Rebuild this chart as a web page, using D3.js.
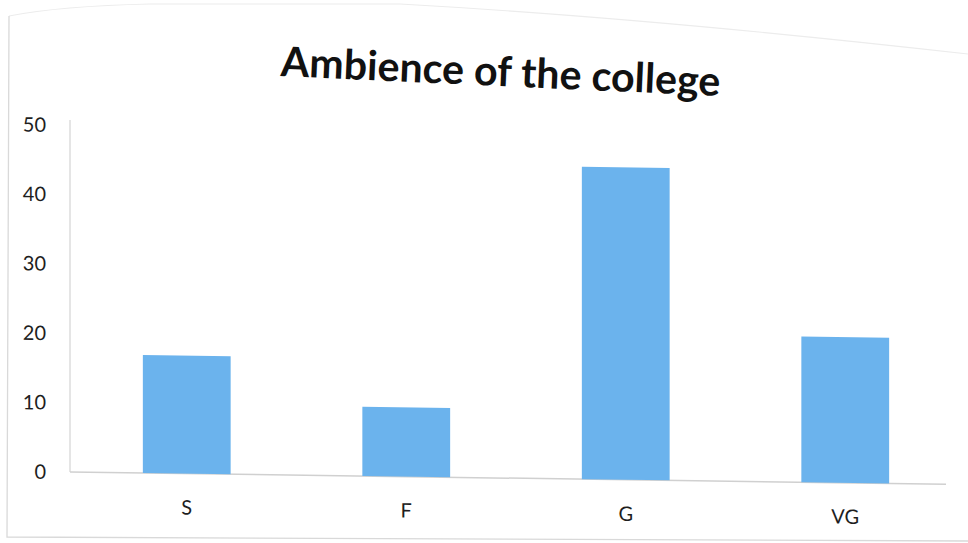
<!DOCTYPE html>
<html>
<head>
<meta charset="utf-8">
<script src="https://cdn.jsdelivr.net/npm/d3@7"></script>
<style>
  html, body { margin: 0; padding: 0; background: #fff; }
  svg { display: block; }
</style>
</head>
<body>
<svg id="chart" width="968" height="543"></svg>
<script>
const title = "Ambience of the college";
const categories = ["S", "F", "G", "VG"];
const values = [17, 10, 45, 21];
const yTicks = [0, 10, 20, 30, 40, 50];

const W = 968, H = 543;
const svg = d3.select("#chart");
svg.append("rect").attr("width", W).attr("height", H).attr("fill", "#fff");

// paper frame edges
svg.append("path")
  .attr("d", "M9,16 Q60,6 150,4 L400,4 Q650,18 968,54")
  .attr("fill", "none").attr("stroke", "#ececec").attr("stroke-width", 1.2);
svg.append("path")
  .attr("d", "M9,16 L7,537 L968,541")
  .attr("fill", "none").attr("stroke", "#d9d9d9").attr("stroke-width", 1.3);

const x0 = 70, y0 = 472;
const plot = svg.append("g")
  .attr("transform", `translate(${x0},${y0}) skewY(0.8) translate(${-x0},${-y0})`);

const x = d3.scaleBand().domain(categories).range([77, 955]).paddingInner(0.6).paddingOuter(0.3);
const y = d3.scaleLinear().domain([0, 50]).range([y0, 125]);

// y axis line
plot.append("line")
  .attr("x1", x0).attr("x2", x0).attr("y1", 120).attr("y2", y0)
  .attr("stroke", "#d4d4d4").attr("stroke-width", 1.2);

// baseline
plot.append("line")
  .attr("x1", x0).attr("x2", 946).attr("y1", y0).attr("y2", y0)
  .attr("stroke", "#d0d0d0").attr("stroke-width", 1.5);

// tick labels
plot.append("g").selectAll("text").data(yTicks).join("text")
  .attr("x", 46).attr("y", d => y(d)).attr("dy", "0.36em")
  .attr("text-anchor", "end")
  .attr("font-family", "Lato, 'Open Sans', sans-serif")
  .attr("font-size", 20).attr("fill", "#1e1e1e")
  .text(d => d);

// bars
plot.append("g").selectAll("rect").data(values).join("rect")
  .attr("x", (d, i) => x(categories[i]))
  .attr("width", x.bandwidth())
  .attr("y", d => y(d))
  .attr("height", d => y(0) - y(d))
  .attr("fill", "#6bb3ed");

// category labels
plot.append("g").selectAll("text").data(categories).join("text")
  .attr("x", d => x(d) + x.bandwidth() / 2)
  .attr("y", 513)
  .attr("text-anchor", "middle")
  .attr("font-family", "Lato, 'Open Sans', sans-serif")
  .attr("font-size", 20).attr("fill", "#1e1e1e")
  .text(d => d);

// title
const tg = svg.append("g").attr("transform", "translate(500,86) rotate(2.6)");
const t = tg.append("text")
  .attr("x", 0).attr("y", 0)
  .attr("text-anchor", "middle")
  .attr("font-family", "Lato, 'Open Sans', sans-serif")
  .attr("font-weight", "bold")
  .attr("font-size", 38).attr("fill", "#111")
  .text(title);
const len = t.node().getComputedTextLength();
t.attr("font-size", 38 * 440 / len);
</script>
</body>
</html>
